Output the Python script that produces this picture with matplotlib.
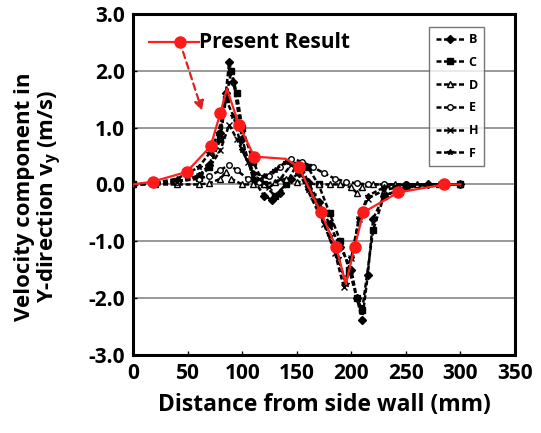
import matplotlib.pyplot as plt
import numpy as np

plt.rcParams['font.family'] = ['Open Sans', 'DejaVu Sans']

# Present Result (red)
present_x = [0, 18, 49, 71, 80, 86, 97, 111, 140, 152, 172, 186, 195, 203, 211, 243, 285, 300]
present_y = [0.0, 0.05, 0.22, 0.67, 1.26, 1.68, 1.05, 0.49, 0.45, 0.30, -0.49, -1.10, -1.75, -1.10, -0.49, -0.14, 0.0, 0.0]
present_marks = [1, 2, 3, 4, 6, 7, 9, 10, 11, 13, 14, 15, 16]

# Reference series (black)
series_x = {
    "B": [0, 20, 40, 60, 70, 80, 85, 88, 92, 100, 110, 120, 127, 135, 145, 152, 160, 170, 180, 190, 200, 205, 210, 215, 220, 230, 250, 270, 300],
    "C": [0, 20, 40, 60, 70, 80, 85, 90, 95, 100, 110, 120, 130, 140, 150, 160, 170, 180, 190, 198, 205, 210, 220, 230, 250, 300],
    "D": [0, 20, 40, 60, 70, 80, 85, 90, 100, 110, 120, 130, 140, 150, 160, 170, 180, 190, 200, 205, 210, 220, 240, 260, 280, 300],
    "E": [0, 20, 40, 60, 70, 80, 88, 95, 105, 115, 125, 135, 145, 155, 165, 175, 185, 195, 205, 215, 230, 250, 300],
    "H": [0, 20, 40, 60, 70, 80, 88, 95, 105, 115, 125, 135, 145, 155, 165, 175, 185, 193, 200, 207, 215, 230, 250, 300],
    "F": [0, 20, 40, 60, 70, 78, 85, 92, 100, 110, 120, 130, 140, 150, 160, 170, 180, 188, 195, 200, 207, 215, 230, 250, 300],
}
series_y = {
    "B": [0.0, 0.02, 0.05, 0.15, 0.35, 0.9, 1.6, 2.15, 1.8, 0.8, 0.1, -0.2, -0.27, -0.15, 0.1, 0.2, 0.05, -0.3, -0.7, -1.1, -1.5, -2.0, -2.38, -1.6, -0.6, -0.2, -0.05, 0.0, 0.0],
    "C": [0.0, 0.02, 0.05, 0.12, 0.3, 0.8, 1.5, 2.0, 1.6, 1.0, 0.4, 0.0, -0.2, 0.0, 0.35, 0.3, 0.0, -0.5, -1.0, -1.5, -2.0, -2.2, -0.8, -0.2, -0.05, 0.0],
    "D": [0.0, 0.0, 0.0, 0.0, 0.02, 0.1, 0.22, 0.1, 0.0, 0.0, 0.0, 0.05, 0.1, 0.05, 0.02, 0.0, 0.0, 0.0, -0.05, -0.15, -0.05, 0.0, 0.0, 0.0, 0.0, 0.0],
    "E": [0.0, 0.02, 0.05, 0.1, 0.15, 0.25, 0.35, 0.25, 0.1, 0.05, 0.15, 0.3, 0.45, 0.4, 0.3, 0.2, 0.1, 0.05, 0.02, 0.0, 0.0, 0.0, 0.0],
    "H": [0.0, 0.02, 0.05, 0.15, 0.3, 0.6, 1.05, 0.8, 0.4, 0.1, -0.05, 0.1, 0.35, 0.3, -0.2, -0.7, -1.2, -1.8, -1.3, -0.6, -0.25, -0.1, -0.02, 0.0],
    "F": [0.0, 0.03, 0.1, 0.3, 0.55, 0.9, 1.5, 1.2, 0.6, 0.2, 0.15, 0.25, 0.4, 0.3, -0.1, -0.5, -0.9, -1.3, -1.75, -1.3, -0.6, -0.2, -0.05, 0.0, 0.0],
}
series_markers = {"B": "D", "C": "s", "D": "^", "E": "o", "H": "x", "F": "*"}
series_fill = {"B": "black", "C": "black", "D": "white", "E": "white", "H": "black", "F": "black"}

fig = plt.figure(figsize=(5.41, 4.33), dpi=100)
ax = fig.add_axes([0.246, 0.180, 0.706, 0.788])

for key in ["B", "C", "D", "E", "H", "F"]:
    ax.plot(series_x[key], series_y[key], color="black", linewidth=1.8, linestyle=(0, (2, 1)),
            marker=series_markers[key], markersize=4, markerfacecolor=series_fill[key],
            markeredgecolor="black", markeredgewidth=1.0, label=key, zorder=3)

ax.plot(present_x, present_y, color="#ff2020", linewidth=1.6, marker="o",
        markersize=8, markevery=present_marks, markerfacecolor="#ff1a1a",
        markeredgecolor="#ff1a1a", zorder=4)

ax.set_xlim(0, 350)
ax.set_ylim(-3.0, 3.0)
ax.set_xticks(np.arange(0, 351, 50))
ax.set_yticks(np.arange(-3.0, 3.01, 1.0))
ax.set_yticklabels(["%.1f" % v for v in np.arange(-3.0, 3.01, 1.0)])
ax.yaxis.grid(True, color="#888888", linewidth=1.2)
ax.set_axisbelow(True)
ax.tick_params(direction="in", length=3, width=1, labelsize=15, pad=6)
for lbl in ax.get_xticklabels() + ax.get_yticklabels():
    lbl.set_fontweight("bold")
for sp in ax.spines.values():
    sp.set_linewidth(2.2)

ax.set_xlabel("Distance from side wall (mm)", fontsize=16.5, fontweight="bold", labelpad=6)
ax.set_ylabel("Velocity component in\nY-direction v$_\\mathregular{y}$ (m/s)", fontsize=16,
              fontweight="bold", linespacing=1.05)
ax.yaxis.set_label_coords(-0.18, 0.465)

leg = ax.legend(loc="upper right", bbox_to_anchor=(0.92, 0.962), fontsize=9, frameon=True,
                fancybox=False, edgecolor="#555555", handlelength=2.3, labelspacing=0.78,
                borderpad=0.5, handletextpad=0.35, borderaxespad=0)
leg.get_frame().set_linewidth(1.0)
for t in leg.get_texts():
    t.set_fontweight("bold")

# "Present Result" label with red marker and dashed arrow
ax.plot([15, 60], [2.5, 2.5], color="#ff2020", linewidth=1.6, clip_on=False, zorder=5)
ax.plot([43], [2.5], marker="o", markersize=8, color="#ff1a1a", zorder=5)
ax.text(60, 2.5, "Present Result", fontsize=15, fontweight="bold", va="center", ha="left")
ax.annotate("", xy=(64, 1.25), xytext=(45, 2.38),
            arrowprops=dict(arrowstyle="-|>", linestyle=(0, (3, 2)), color="#e02020",
                            linewidth=1.6, mutation_scale=14))

fig.savefig("out.png", dpi=100)
